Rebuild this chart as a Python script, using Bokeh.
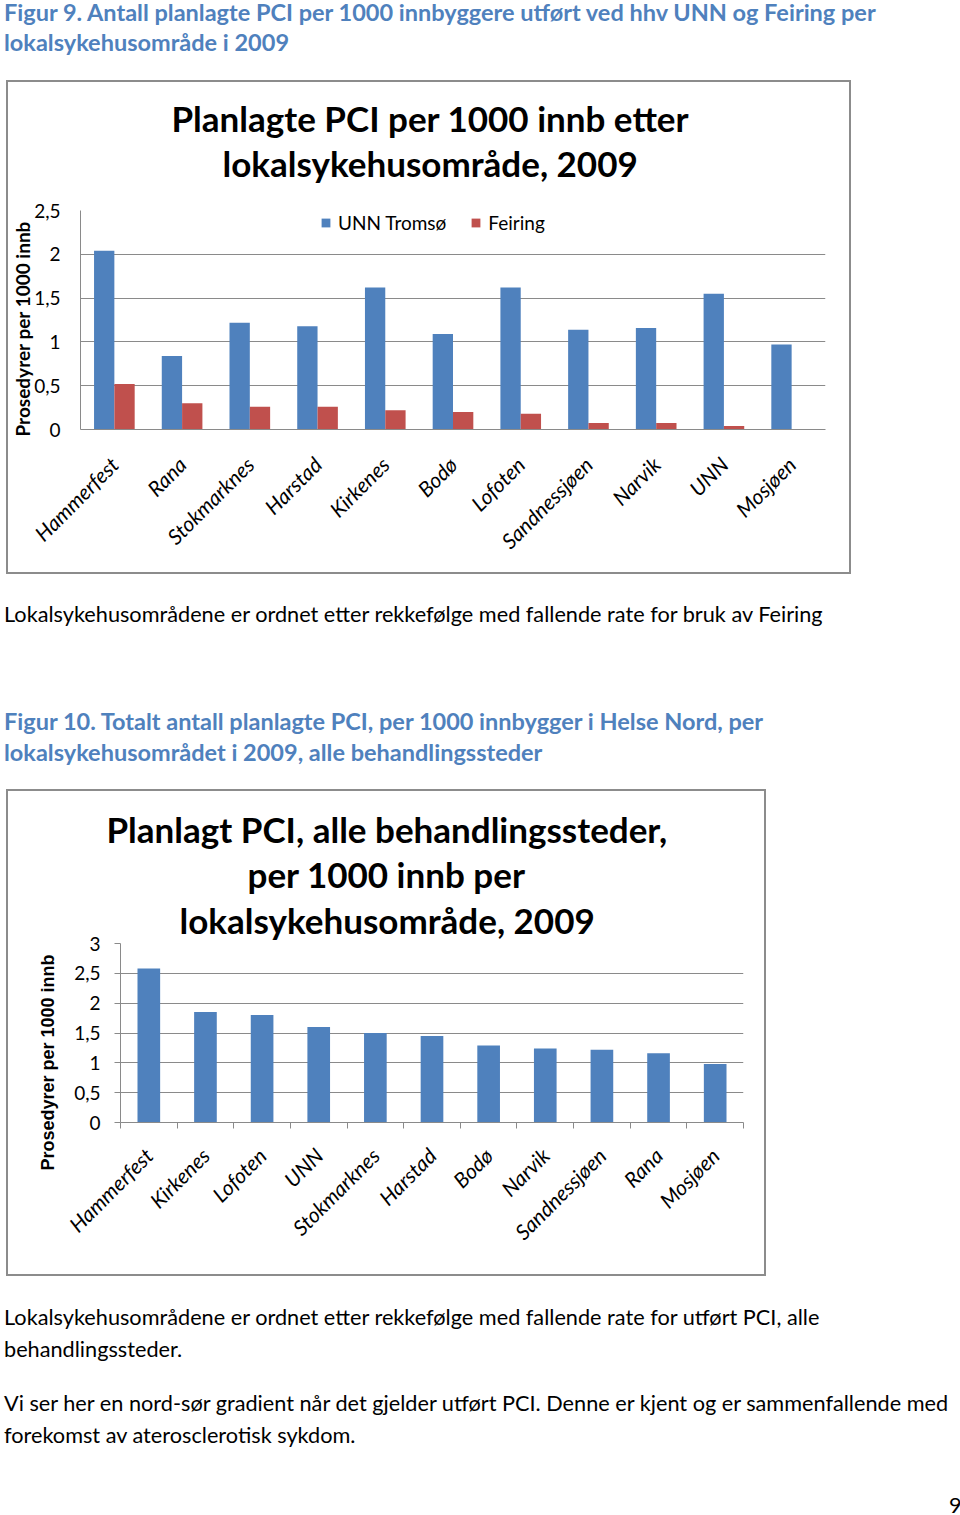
import math
import numpy as np
from bokeh.plotting import figure
from bokeh.models import (Range1d, FixedTicker, Title, Legend, LegendItem, Div,
                          ColumnDataSource)
from bokeh.layouts import column, row
from bokeh.transform import dodge
from bokeh.embed import file_html
from bokeh.resources import INLINE

# ---------------- data ----------------
areas1 = ["Hammerfest", "Rana", "Stokmarknes", "Harstad", "Kirkenes", "Bodø",
          "Lofoten", "Sandnessjøen", "Narvik", "UNN", "Mosjøen"]
unn_tromso = [2.04, 0.84, 1.22, 1.18, 1.62, 1.09, 1.62, 1.14, 1.16, 1.55, 0.97]
feiring = [0.52, 0.30, 0.26, 0.26, 0.22, 0.20, 0.18, 0.075, 0.075, 0.04, 0.0]
y_ticks1 = [0, 0.5, 1, 1.5, 2, 2.5]
y_labels1 = ["0", "0,5", "1", "1,5", "2", "2,5"]
series1 = ["UNN Tromsø", "Feiring"]

areas2 = ["Hammerfest", "Kirkenes", "Lofoten", "UNN", "Stokmarknes", "Harstad",
          "Bodø", "Narvik", "Sandnessjøen", "Rana", "Mosjøen"]
total_pci = [2.58, 1.85, 1.80, 1.60, 1.50, 1.45, 1.29, 1.24, 1.22, 1.16, 0.98]
y_ticks2 = [0, 0.5, 1, 1.5, 2, 2.5, 3]
y_labels2 = ["0", "0,5", "1", "1,5", "2", "2,5", "3"]

title1 = ["Planlagte PCI per 1000 innb etter", "lokalsykehusområde, 2009"]
title2 = ["Planlagt PCI, alle behandlingssteder,", "per 1000 innb per", "lokalsykehusområde, 2009"]
ylabel = "Prosedyrer per 1000 innb"

BLUE = "#4F81BD"
RED = "#C0504D"
GRID = "#8a8a8a"
FONT = "Lato"
FRAME_STYLE = {"outline": "2px solid #8c8c8c", "outline-offset": "-2px"}


def add_titles(p, lines, offsets, standoffs, size, gap=None):
    # optional empty gap panel next to the frame, then lines from bottom to top
    if gap is not None:
        p.add_layout(Title(text=" ", standoff=gap, text_font_size="1px"), "above")
    for t, o, s in reversed(list(zip(lines, offsets, standoffs))):
        p.add_layout(Title(text=t, align="left", offset=o, standoff=s,
                           text_font=FONT, text_font_style="bold", text_font_size=size,
                           text_color="black"), "above")


def add_ylabel(p, text, font, size, offset, standoff):
    p.add_layout(Title(text=text, align="left", offset=offset, standoff=standoff,
                       text_font=font, text_font_style="bold", text_font_size=size,
                       text_color="black"), "left")


# ---------------- chart 1 ----------------
n1 = len(areas1)
c1 = np.arange(n1) + 0.5
src1 = ColumnDataSource(dict(x=c1, unn=unn_tromso, fei=feiring))

p1 = figure(width=845, height=494, x_range=Range1d(0, n1), y_range=Range1d(0, 2.5),
            output_backend="svg", toolbar_location=None, title=None,
            min_border_left=74, min_border_right=26, min_border_top=130, min_border_bottom=145,
            border_fill_color=None, background_fill_color=None, outline_line_color=None,
            styles=FRAME_STYLE)
r_unn = p1.vbar(x=dodge("x", -0.15), top="unn", width=0.3, source=src1,
                fill_color=BLUE, line_color=None)
r_fei = p1.vbar(x=dodge("x", 0.15), top="fei", width=0.3, source=src1,
                fill_color=RED, line_color=None)

p1.xaxis.ticker = FixedTicker(ticks=list(c1))
p1.xaxis.major_label_overrides = {float(c): a for c, a in zip(c1, areas1)}
p1.xaxis.major_label_orientation = math.pi / 4
p1.xaxis.major_tick_line_color = None
p1.xaxis.major_tick_out = 0
p1.xaxis.minor_tick_line_color = None
p1.xaxis.axis_line_color = GRID
p1.xaxis.major_label_standoff = 31
p1.xaxis.major_label_text_font = FONT
p1.xaxis.major_label_text_font_style = "italic"
p1.xaxis.major_label_text_font_size = "21px"
p1.xaxis.major_label_text_color = "black"

p1.yaxis.ticker = FixedTicker(ticks=y_ticks1)
p1.yaxis.major_label_overrides = dict(zip(y_ticks1, y_labels1))
p1.yaxis.major_tick_line_color = None
p1.yaxis.major_tick_out = 0
p1.yaxis.minor_tick_line_color = None
p1.yaxis.axis_line_color = GRID
p1.yaxis.major_label_standoff = 20
p1.yaxis.major_label_text_font = FONT
p1.yaxis.major_label_text_font_size = "19px"
p1.yaxis.major_label_text_color = "black"

p1.xgrid.visible = False
p1.ygrid.ticker = FixedTicker(ticks=y_ticks1)
p1.ygrid.grid_line_color = GRID

add_titles(p1, title1, [91, 142], [-20, 23], "35px", gap=12)
add_ylabel(p1, ylabel, FONT, "19px", -7, -4)

leg = Legend(items=[LegendItem(label=series1[0], renderers=[r_unn]),
                    LegendItem(label=series1[1], renderers=[r_fei])],
             location=(240, 195), orientation="horizontal", glyph_width=11, glyph_height=11,
             label_standoff=7, spacing=24, padding=0, margin=0, border_line_color=None,
             background_fill_alpha=0, label_text_font=FONT, label_text_font_size="19px",
             label_text_color="black")
p1.add_layout(leg)

# ---------------- chart 2 ----------------
n2 = len(areas2)
c2 = np.arange(n2) + 0.5
src2 = ColumnDataSource(dict(x=c2, total=total_pci))

p2 = figure(width=760, height=487, x_range=Range1d(0, n2), y_range=Range1d(0, 3),
            output_backend="svg", toolbar_location=None, title=None,
            min_border_left=114, min_border_right=23, min_border_top=154, min_border_bottom=154,
            border_fill_color=None, background_fill_color=None, outline_line_color=None,
            styles=FRAME_STYLE)
p2.vbar(x="x", top="total", width=0.4, source=src2, fill_color=BLUE, line_color=None)

p2.xaxis.ticker = FixedTicker(ticks=list(c2), minor_ticks=list(range(n2 + 1)))
p2.xaxis.major_label_overrides = {float(c): a for c, a in zip(c2, areas2)}
p2.xaxis.major_label_orientation = math.pi / 4
p2.xaxis.major_tick_line_color = None
p2.xaxis.major_tick_out = 0
p2.xaxis.minor_tick_line_color = GRID
p2.xaxis.minor_tick_in = 0
p2.xaxis.minor_tick_out = 6
p2.xaxis.axis_line_color = GRID
p2.xaxis.major_label_standoff = 23
p2.xaxis.major_label_text_font = FONT
p2.xaxis.major_label_text_font_style = "italic"
p2.xaxis.major_label_text_font_size = "21px"
p2.xaxis.major_label_text_color = "black"

p2.yaxis.ticker = FixedTicker(ticks=y_ticks2)
p2.yaxis.major_label_overrides = dict(zip(y_ticks2, y_labels2))
p2.yaxis.major_tick_line_color = GRID
p2.yaxis.major_tick_in = 0
p2.yaxis.major_tick_out = 6
p2.yaxis.minor_tick_line_color = None
p2.yaxis.axis_line_color = GRID
p2.yaxis.major_label_standoff = 14
p2.yaxis.major_label_text_font = FONT
p2.yaxis.major_label_text_font_size = "19px"
p2.yaxis.major_label_text_color = "black"

p2.xgrid.visible = False
p2.ygrid.ticker = FixedTicker(ticks=y_ticks2)
p2.ygrid.grid_line_color = GRID

add_titles(p2, title2, [-14, 127, 59], [4, -2, 6], "35px")
add_ylabel(p2, ylabel, "Liberation Sans", "18px", -48, 27)

# ---------------- page text ----------------
def block(h, items):
    parts = []
    for (left, top, txt, size, weight, color) in items:
        parts.append(
            f'<div style="position:absolute;left:{left}px;top:{top}px;white-space:nowrap;'
            f'font-family:Lato;font-size:{size}px;font-weight:{weight};color:{color};'
            f'line-height:30px;">{txt}</div>')
    html = f'<div style="position:relative;width:960px;height:{h}px;">{"".join(parts)}</div>'
    return Div(text=html, width=960, height=h, margin=(0, 0, 0, 0))

cap1 = ["Figur 9. Antall planlagte PCI per 1000 innbyggere utført ved hhv UNN og Feiring per",
        "lokalsykehusområde i 2009"]
note1 = "Lokalsykehusområdene er ordnet etter rekkefølge med fallende rate for bruk av Feiring"
cap2 = ["Figur 10. Totalt antall planlagte PCI, per 1000 innbygger i Helse Nord, per",
        "lokalsykehusområdet i 2009, alle behandlingssteder"]
note2 = ["Lokalsykehusområdene er ordnet etter rekkefølge med fallende rate for utført PCI, alle",
         "behandlingssteder."]
note3 = ["Vi ser her en nord-sør gradient når det gjelder utført PCI. Denne er kjent og er sammenfallende med",
         "forekomst av aterosclerotisk sykdom."]

CAP = 23.5
BODY = 21.7
divA = block(80, [(4, -3, cap1[0], CAP, 700, BLUE), (4, 27, cap1[1], CAP, 700, BLUE)])
divB = block(215, [(4, 25, note1, BODY, 400, "black"),
                   (4, 132, cap2[0], CAP, 700, BLUE), (4, 163, cap2[1], CAP, 700, BLUE)])
divC = block(239, [(4, 26, note2[0], BODY, 400, "black"), (4, 58, note2[1], BODY, 400, "black"),
                   (4, 112, note3[0], BODY, 400, "black"), (4, 144, note3[1], BODY, 400, "black"),
                   (949, 214, "9", BODY, 400, "black")])

box1 = row(p1, margin=(0, 0, 0, 6))
box2 = row(p2, margin=(0, 0, 0, 6))
layout = column(divA, box1, divB, box2, divC, spacing=0, margin=(0, 0, 0, 0))

with open("out.html", "w") as f:
    f.write(file_html(layout, INLINE))
